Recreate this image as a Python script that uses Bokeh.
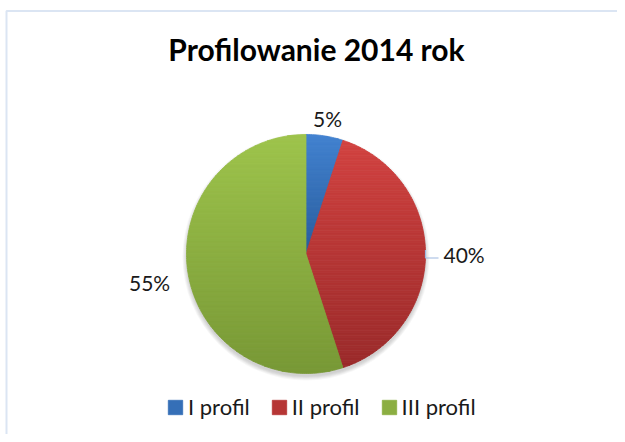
import numpy as np
from bokeh.plotting import figure
from bokeh.models import Range1d, ColumnDataSource, Legend, LegendItem
from bokeh.core.properties import value
from bokeh.embed import file_html
from bokeh.resources import INLINE

# ---- data ----
title_text = "Profilowanie 2014 rok"
categories = ["I profil", "II profil", "III profil"]
shares = [5, 40, 55]
pct_labels = ["5%", "40%", "55%"]

# ---- styles ----
top_colors = [(66, 130, 208), (210, 66, 64), (158, 196, 76)]
bottom_colors = [(40, 92, 156), (154, 42, 42), (120, 152, 54)]
FONT = "Lato"

# ---- layout (page pixels) ----
W, H, OFF, PAGE_H = 617, 434, 0, 442


def Y(ypage):
    return PAGE_H - ypage


CX, CY, R = 305.5, Y(253.5), 119.5

p = figure(width=W, height=H, x_range=Range1d(OFF, OFF + W),
           y_range=Range1d(PAGE_H - OFF - H, PAGE_H - OFF),
           output_backend="svg", toolbar_location=None, min_border=0)
p.axis.visible = False
p.grid.visible = False
p.outline_line_color = None
p.background_fill_color = "white"
p.border_fill_color = "white"

# chart-area border
p.line(x=[6, 6, OFF + W], y=[Y(PAGE_H), Y(10.5), Y(10.5)],
       line_color="#dbe5f3", line_width=2)

# title
p.text(x=[316], y=[Y(48)], text=[title_text], text_font=value(FONT),
       text_font_style="bold", text_font_size=value("30px"),
       text_align="center", text_baseline="middle", text_color="black")

# soft shadow under the pie
sh = ColumnDataSource(dict(x=[CX] * 6, y=[CY - 3] * 6,
                           r=[R + 0.8 * k for k in range(6)]))
p.circle(x="x", y="y", radius="r", source=sh, fill_color="black",
         fill_alpha=0.03, line_color=None)


def _inter(a, b, yc):
    t = (yc - a[1]) / (b[1] - a[1])
    return (a[0] + t * (b[0] - a[0]), yc)


def clip_half(pts, yc, keep_above):
    out = []
    n = len(pts)
    for i in range(n):
        cur, prev = pts[i], pts[i - 1]
        cin = cur[1] >= yc if keep_above else cur[1] <= yc
        pin = prev[1] >= yc if keep_above else prev[1] <= yc
        if cin:
            if not pin:
                out.append(_inter(prev, cur, yc))
            out.append(cur)
        elif pin:
            out.append(_inter(prev, cur, yc))
    return out


def to_hex(c):
    return "#%02x%02x%02x" % tuple(int(round(v)) for v in c)


total = float(sum(shares))
cum = np.concatenate([[0.0], np.cumsum(shares)]) / total
starts = np.pi / 2 - 2 * np.pi * cum[:-1]
ends = np.pi / 2 - 2 * np.pi * cum[1:]

legend_items = []
mids = []
for i in range(len(shares)):
    a0, a1 = starts[i], ends[i]
    n = max(8, int(abs(a1 - a0) * R / 2))
    t = np.linspace(a0, a1, n)
    poly = [(CX, CY)] + [(CX + R * np.cos(a), CY + R * np.sin(a)) for a in t]
    ys = [q[1] for q in poly]
    ymin, ymax = min(ys), max(ys)
    step = 2.5
    bx, by, bc = [], [], []
    yb = ymin
    while yb < ymax:
        yt = min(yb + step, ymax)
        band = clip_half(clip_half(poly, yb, True), yt, False)
        if len(band) >= 3:
            f = (ymax - (yb + yt) / 2) / (ymax - ymin)
            col = [top_colors[i][k] * (1 - f) + bottom_colors[i][k] * f for k in range(3)]
            bx.append([q[0] for q in band])
            by.append([q[1] for q in band])
            bc.append(to_hex(col))
        yb = yt
    src = ColumnDataSource(dict(xs=bx, ys=by, c=bc))
    r = p.patches(xs="xs", ys="ys", source=src, fill_color="c", line_color="c",
                  line_width=0.8)
    legend_items.append(LegendItem(label=categories[i], renderers=[r], index=len(bc) // 2))
    mids.append((a0 + a1) / 2)

# percentage labels
lx, ly, la = [], [], []
for i, m in enumerate(mids):
    dx, dy = np.cos(m), np.sin(m)
    lx.append(CX + (R + 18) * dx)
    ly.append(CY + (R + 18) * dy + (R * dy * 0.35 if dy < -0.1 else 0))
    la.append("left" if dx > 0.5 else ("right" if dx < -0.5 else "center"))
    if dx > 0.5:
        # leader line
        x0, y0 = CX + R * dx, CY + R * dy
        p.line(x=[x0, x0, x0 + 13], y=[y0 + 4, y0 - 4, y0 - 4],
               line_color="#9db8e0", line_width=1.2)
p.text(x=lx, y=ly, text=pct_labels, text_font=value(FONT),
       text_font_size=value("21px"), text_align=la, text_baseline="middle",
       text_color="#1a1a1a")

legend = Legend(items=legend_items, orientation="horizontal",
                location=(166, 14), padding=0, margin=0, spacing=20,
                label_standoff=4, glyph_width=18, glyph_height=18,
                label_text_font=FONT, label_text_font_size="22px",
                label_text_color="#1a1a1a", border_line_color=None,
                background_fill_alpha=0)
p.add_layout(legend, "center")

open("out.html", "w").write(file_html(p, INLINE))
